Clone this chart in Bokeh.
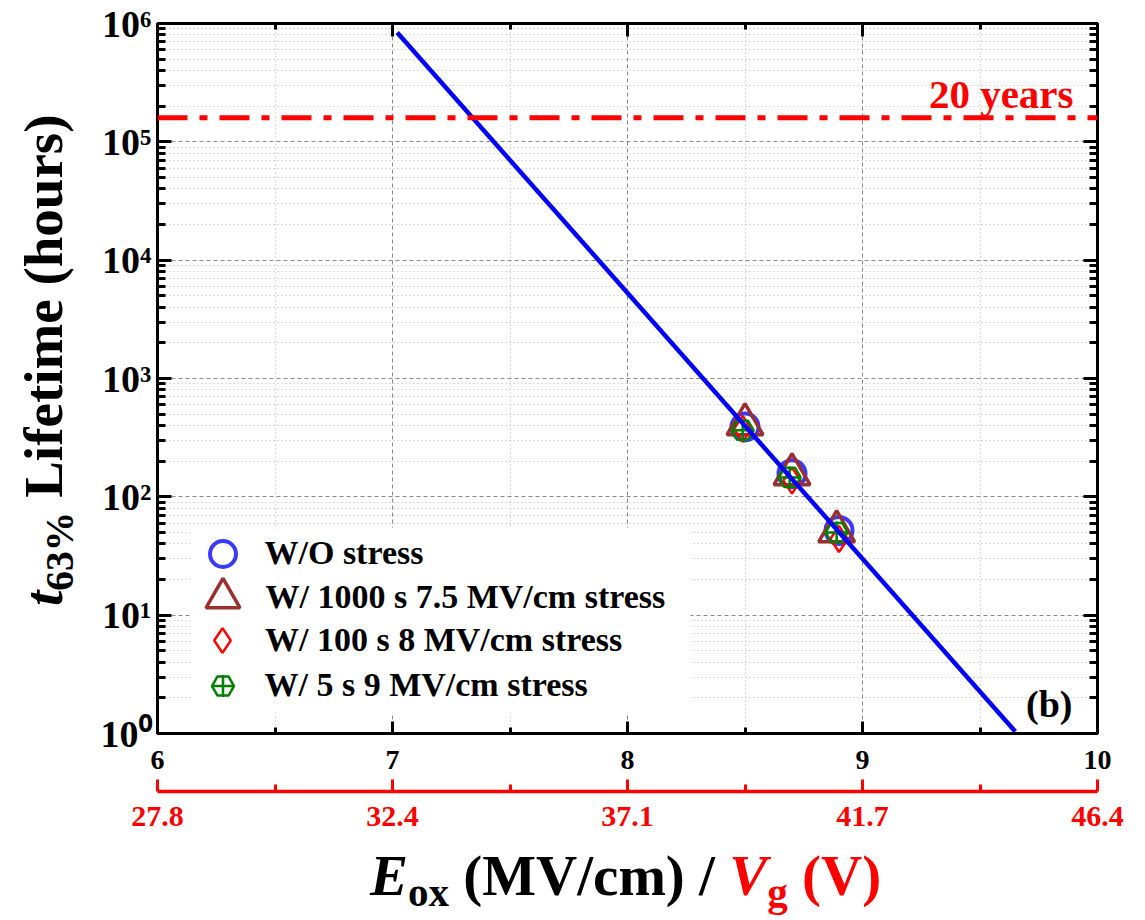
import math
from bokeh.plotting import figure
from bokeh.layouts import row, column
from bokeh.models import (LinearAxis, LogAxis, FixedTicker, Range1d, Label, Span,
                          Legend, LegendItem, BoxAnnotation, Div)
from bokeh.embed import file_html
from bokeh.resources import INLINE

# ---------------- data ----------------
eox_wo = [8.50, 8.70, 8.90]
life_wo = [390, 157, 52]
eox_1000s = [8.50, 8.70, 8.89]
life_1000s = [410, 155, 51]
eox_100s = [8.49, 8.70, 8.90]
life_100s = [375, 137, 44]
eox_5s = [8.49, 8.69, 8.89]
life_5s = [365, 146, 50]
fit_eox = [7.02, 9.65]
fit_life = [8.4e5, 1.04]
twenty_years_hours = 1.6e5

eox_ticks = [6, 7, 8, 9, 10]
eox_minor_ticks = [6.5, 7.5, 8.5, 9.5]
vg_tick_labels = ["27.8", "32.4", "37.1", "41.7", "46.4"]
decade_exponents = [0, 1, 2, 3, 4, 5, 6]
legend_labels = ["W/O stress", "W/ 1000 s 7.5 MV/cm stress",
                 "W/ 100 s 8 MV/cm stress", "W/ 5 s 9 MV/cm stress"]

FONT = "Liberation Serif"
BLUE = "#3a3aff"
BROWN = "#9a2f2f"
RED = "#ff0000"
GREEN = "#008000"
SUP = {0: "\u2070", 1: "\u00b9", 2: "\u00b2", 3: "\u00b3", 4: "\u2074", 5: "\u2075", 6: "\u2076"}

decade_ticks = [10.0 ** k for k in decade_exponents]
minor_life_ticks = [m * 10.0 ** k for k in decade_exponents[:-1] for m in range(2, 10)]

YDIV_W = 85
P_W = 1145 - YDIV_W
P_H = 845

p = figure(width=P_W, height=P_H, y_axis_type="log",
           x_range=Range1d(6, 10), y_range=Range1d(1, 1e6),
           output_backend="svg", toolbar_location=None,
           min_border_left=157 - YDIV_W, min_border_right=48,
           min_border_top=23, min_border_bottom=P_H - 733)
p.background_fill_color = "white"
p.border_fill_color = "white"
p.outline_line_color = "black"
p.outline_line_width = 3

xticker = FixedTicker(ticks=eox_ticks, minor_ticks=eox_minor_ticks)
yticker = FixedTicker(ticks=decade_ticks, minor_ticks=minor_life_ticks)

# ---- bottom black axis ----
xa = p.xaxis[0]
xa.ticker = xticker
xa.axis_line_width = 3
xa.major_tick_in = 12
xa.major_tick_out = 0
xa.minor_tick_in = 6
xa.minor_tick_out = 0
xa.major_tick_line_width = 3
xa.minor_tick_line_width = 3
xa.major_label_text_font = FONT
xa.major_label_text_font_style = "bold"
xa.major_label_text_font_size = "28px"
xa.major_label_text_color = "black"
xa.major_label_standoff = 17
xa.axis_label = "\u00a0"
xa.axis_label_standoff = 0
xa.axis_label_text_font_size = "16px"

# ---- second (red) bottom axis: Vg ----
ra = LinearAxis(ticker=xticker,
                major_label_overrides={t: lab for t, lab in zip(eox_ticks, vg_tick_labels)})
ra.axis_line_color = RED
ra.axis_line_width = 3.5
ra.major_tick_line_color = RED
ra.minor_tick_line_color = RED
ra.major_tick_line_width = 3
ra.minor_tick_line_width = 3
ra.major_tick_in = 12
ra.major_tick_out = 0
ra.minor_tick_in = 7
ra.minor_tick_out = 0
ra.major_label_text_font = FONT
ra.major_label_text_font_style = "bold"
ra.major_label_text_font_size = "30px"
ra.major_label_text_color = RED
ra.major_label_standoff = 15
p.add_layout(ra, "below")

# ---- left log axis ----
ya = p.yaxis[0]
ya.ticker = yticker
ya.axis_line_width = 3
ya.major_tick_in = 14
ya.major_tick_out = 0
ya.minor_tick_in = 8
ya.minor_tick_out = 0
ya.major_tick_line_width = 3
ya.minor_tick_line_width = 3
ya.major_label_overrides = {t: "10" + SUP[k] for k, t in zip(decade_exponents, decade_ticks)}
ya.major_label_text_font = FONT
ya.major_label_text_font_style = "bold"
ya.major_label_text_font_size = "38px"
ya.major_label_text_color = "black"
ya.major_label_standoff = 6

# ---- top / right mirror axes ----
ta = LinearAxis(ticker=xticker, major_label_overrides={t: "" for t in eox_ticks})
ta.axis_line_width = 3
ta.major_tick_in = 13
ta.major_tick_out = 0
ta.minor_tick_in = 6
ta.minor_tick_out = 0
ta.major_tick_line_width = 3
ta.minor_tick_line_width = 3
ta.major_label_text_font_size = "8px"
ta.major_label_standoff = 0
p.add_layout(ta, "above")

rya = LogAxis(ticker=yticker, major_label_overrides={t: "" for t in decade_ticks})
rya.axis_line_width = 3
rya.major_tick_in = 14
rya.major_tick_out = 0
rya.minor_tick_in = 8
rya.minor_tick_out = 0
rya.major_tick_line_width = 3
rya.minor_tick_line_width = 3
rya.major_label_text_font_size = "8px"
rya.major_label_standoff = 0
p.add_layout(rya, "right")

# ---- grids ----
for g in (p.xgrid[0], p.ygrid[0]):
    g.grid_line_color = "#8a8a8a"
    g.grid_line_dash = "4 3"
    g.grid_line_width = 1
    g.minor_grid_line_color = "#b5b5b5"
    g.minor_grid_line_dash = "1 3"
    g.minor_grid_line_width = 1
p.xgrid[0].ticker = xticker
p.ygrid[0].ticker = yticker

# ---- legend background box ----
p.add_layout(BoxAnnotation(left=33, right=533, bottom=21, top=206,
                           left_units="screen", right_units="screen",
                           top_units="screen", bottom_units="screen",
                           fill_color="white", fill_alpha=1.0, line_alpha=0,
                           level="underlay"))

# ---- data ----
r_wo = p.scatter(eox_wo, life_wo, marker="circle", size=27, fill_color=None,
                 line_color=BLUE, line_width=4)
r_1000 = p.scatter(eox_1000s, life_1000s, marker="triangle", size=36, fill_color=None,
                   line_color=BROWN, line_width=3.5)
r_100 = p.scatter(eox_100s, life_100s, marker="diamond", size=26, fill_color=None,
                  line_color=RED, line_width=2.5)
r_5hex = p.scatter(eox_5s, life_5s, marker="hex", size=22, fill_color=None,
                   line_color=GREEN, line_width=2.5)
r_5cross = p.scatter(eox_5s, life_5s, marker="cross", size=22, fill_color=None,
                     line_color=GREEN, line_width=2.5)
p.line(fit_eox, fit_life, line_color="#0000ff", line_width=4.5)

# 20-year criterion
p.add_layout(Span(location=twenty_years_hours, dimension="width", line_color=RED,
                  line_width=5, line_dash="30 12 8 12"))
p.add_layout(Label(x=10, y=twenty_years_hours, text="20 years", text_align="right",
                   text_baseline="alphabetic", x_offset=-24, y_offset=24,
                   text_font=FONT, text_font_style="bold", text_font_size="41px",
                   text_color=RED))
p.add_layout(Label(x=10, y=1, text="(b)", text_align="right", text_baseline="alphabetic",
                   x_offset=-25, y_offset=30, text_font=FONT, text_font_style="bold",
                   text_font_size="38px", text_color="black"))

# ---- legends (one per entry so each marker keeps its size) ----
def make_legend(label, renderers, glyph, loc, standoff):
    return Legend(items=[LegendItem(label=label, renderers=renderers)],
                  location=loc, glyph_width=glyph, glyph_height=glyph,
                  label_standoff=standoff, padding=0, margin=0, spacing=0,
                  background_fill_alpha=0, border_line_alpha=0,
                  label_text_font=FONT, label_text_font_style="bold",
                  label_text_font_size="34px", label_text_color="black")

p.add_layout(make_legend(legend_labels[0], [r_wo], 65, (32.5, 147.5), 10), "center")
p.add_layout(make_legend(legend_labels[1], [r_1000], 85, (22.5, 93.5), 1), "center")
p.add_layout(make_legend(legend_labels[2], [r_100], 62, (34, 62), 12), "center")
p.add_layout(make_legend(legend_labels[3], [r_5hex, r_5cross], 55, (37.5, 20.5), 15), "center")

# ---- axis titles as HTML text ----
TXT = ("font-family:'Liberation Serif';font-weight:bold;line-height:1;"
       "white-space:nowrap;position:absolute;")
SUB = "font-size:0.72em;position:relative;top:0.28em;"

ydiv = Div(width=YDIV_W, height=920, margin=0,
           text=('<div style="position:relative;width:%dpx;height:920px;">'
                 '<div style="%sleft:16px;top:606px;font-size:55px;color:#000;'
                 'transform:rotate(-90deg);transform-origin:0 0;">'
                 '<i>t</i><span style="%s">63%%</span> Lifetime (hours)</div></div>')
                % (YDIV_W, TXT, SUB))

xdiv = Div(width=P_W, height=920 - P_H, margin=0,
           text=('<div style="position:relative;width:%dpx;height:%dpx;">'
                 '<div style="%sleft:%dpx;top:2px;font-size:57px;color:#000;">'
                 '<i>E</i><span style="%s">ox</span> (MV/cm) / '
                 '<span style="color:#ff0000;"><i>V</i><span style="%s">g</span> (V)</span>'
                 '</div></div>')
                % (P_W, 920 - P_H, TXT, 370 - YDIV_W, SUB, SUB))

layout = row(ydiv, column(p, xdiv, spacing=0), spacing=0)

open("out.html", "w").write(file_html(layout, INLINE))
